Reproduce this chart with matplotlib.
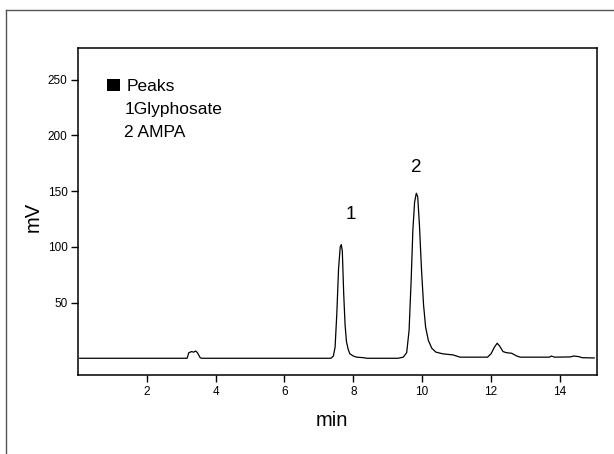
import matplotlib
matplotlib.use("Agg")
import matplotlib.pyplot as plt
from matplotlib.patches import Rectangle

plt.rcParams['font.family'] = ['Liberation Sans', 'DejaVu Sans']

# Chromatogram trace (time in min, signal in mV)
time_min = [0.05, 3.17, 3.22, 3.3, 3.36, 3.42, 3.47, 3.55, 3.6,
            7.35, 7.42, 7.47, 7.52, 7.57, 7.62, 7.65, 7.68, 7.72, 7.76, 7.8, 7.85, 7.9, 8.0, 8.1, 8.3, 8.4,
            9.3, 9.45, 9.55, 9.62, 9.68, 9.73, 9.78, 9.83, 9.87, 9.92, 9.98, 10.04, 10.1, 10.18, 10.28,
            10.4, 10.6, 10.9, 11.0, 11.1, 11.9, 12.0, 12.1, 12.18, 12.25, 12.35, 12.45, 12.6, 12.75,
            12.85, 13.7, 13.75, 13.85, 14.3, 14.4, 14.55, 14.65, 15.0]
signal_mv = [0, 0, 5, 6, 5.5, 6.5, 5, 0.5, 0,
             0, 2, 10, 40, 80, 100, 102, 96, 58, 30, 15, 8, 4, 2, 1, 0.5, 0,
             0, 1, 5, 25, 70, 115, 140, 148, 145, 120, 80, 48, 28, 16, 9,
             5.5, 4, 3, 2, 1, 1, 4, 10, 13.5, 11, 6, 5, 4.5, 2,
             1, 1, 2, 1, 1.2, 2, 1.5, 0.5, 0.3]

peak_labels = ["1", "2"]
peak_label_x = [7.94, 9.82]
peak_label_y = [129, 171.5]

legend_title = "Peaks"
legend_lines = ["1Glyphosate", "2 AMPA"]

x_ticks = [2, 4, 6, 8, 10, 12, 14]
y_ticks = [50, 100, 150, 200, 250]

W, H = 614, 454
fig = plt.figure(figsize=(W / 100, H / 100), dpi=100)
fig.patch.set_facecolor('white')


def fx(px):
    return px / W


def fy(py):
    return 1 - py / H


# outer frame (partially cropped)
fig.add_artist(plt.Line2D([fx(6), fx(6)], [0, fy(10)], transform=fig.transFigure,
                          color='#555555', lw=1.0))
fig.add_artist(plt.Line2D([fx(6), 1], [fy(10), fy(10)], transform=fig.transFigure,
                          color='#555555', lw=1.0))

ax = fig.add_axes([fx(78), fy(375), (597 - 78) / W, (375 - 48.3) / H])
ax.plot(time_min, signal_mv, color='black', lw=0.9)
ax.set_xlim(0, 15.08)
ax.set_ylim(-15, 278)
ax.set_xticks(x_ticks)
ax.set_yticks(y_ticks)
ax.tick_params(direction='out', length=5, width=1, labelsize=8.5, colors='black')
ax.tick_params(axis='x', pad=3)
ax.tick_params(axis='y', pad=2.5)
for s in ax.spines.values():
    s.set_linewidth(1.1)

fig.text(fx(331.5), fy(421), "min", fontsize=14.5, ha='center', va='center')
fig.text(fx(33), fy(217), "mV", fontsize=14.5, ha='center', va='center', rotation=90)

for lab, px, py in zip(peak_labels, peak_label_x, peak_label_y):
    ax.text(px, py, lab, fontsize=13.5, ha='center', va='center')

# legend-like annotation
fig.add_artist(Rectangle((fx(107), fy(91)), 12.5 / W, 11.7 / H, transform=fig.transFigure,
                         facecolor='black', edgecolor='none'))
fig.text(fx(126.5), fy(91), legend_title, fontsize=12.5, ha='left', va='baseline')
fig.text(fx(124.3), fy(114), legend_lines[0], fontsize=12.5, ha='left', va='baseline')
fig.text(fx(124.3), fy(137.3), legend_lines[1], fontsize=12.5, ha='left', va='baseline')

fig.savefig("out.png", dpi=100)
